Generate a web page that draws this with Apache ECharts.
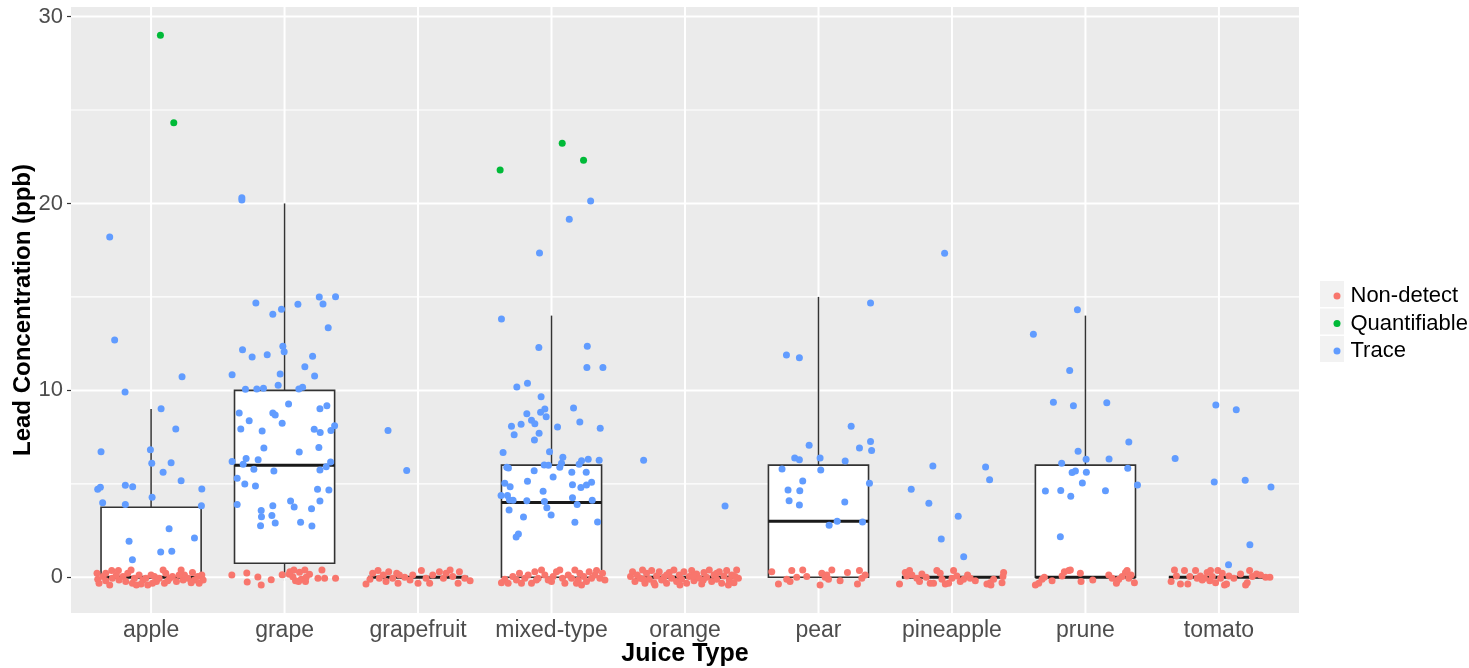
<!DOCTYPE html>
<html>
<head>
<meta charset="utf-8">
<script src="https://cdn.jsdelivr.net/npm/echarts@6/dist/echarts.min.js"></script>
<style>html,body{margin:0;padding:0;background:#fff}#chart{width:1469px;height:668px}</style>
</head>
<body>
<div id="chart"></div>
<script>
// ---------------- data ----------------
const categories = ['apple','grape','grapefruit','mixed-type','orange','pear','pineapple','prune','tomato'];
const yTicks = [0, 10, 20, 30];
const yMinorTicks = [5, 15, 25];
const xTicks = [1, 2, 3, 4, 5, 6, 7, 8, 9];
const boxLower  = [0, 0,    0, 0, 0, 0, 0, 0, 0];
const boxQ1     = [0, 0.75, 0, 0, 0, 0, 0, 0, 0];
const boxMedian = [0, 6,    0, 4, 0, 3, 0, 0, 0];
const boxQ3     = [3.75, 10, 0, 6, 0, 6, 0, 6, 0];
const boxUpper  = [9, 20,   0, 14, 0, 15, 0, 14, 0];
const seriesNames = ['Non-detect', 'Quantifiable', 'Trace'];

// points: [jittered category position, lead (ppb)]
const quantifiable = [
  [1.07, 29.0], [1.17, 24.32], [3.615, 21.79], [4.08, 23.22], [4.24, 22.31]
];
const trace = [
  // apple
  [0.69,18.2],[0.727,12.7],[1.232,10.73],[0.805,9.91],[1.075,9.02],[1.185,7.93],[0.625,6.72],[0.995,6.83],
  [1.005,6.10],[1.15,6.13],[1.09,5.62],[1.225,5.17],[0.60,4.71],[0.62,4.82],[0.807,4.92],[0.862,4.85],
  [1.38,4.72],[1.0075,4.28],[0.637,3.99],[0.807,3.90],[1.377,3.83],[1.135,2.60],[1.325,2.10],[0.835,1.93],
  [1.072,1.35],[1.155,1.39],[0.86,0.94],
  // grape
  [1.68,20.3],[1.68,20.18],[1.785,14.68],[1.912,14.07],[1.977,14.34],[2.10,14.61],[2.26,15.0],[2.288,14.62],
  [2.382,15.01],[2.327,13.35],[1.685,12.18],[1.757,11.79],[1.87,11.91],[1.987,12.36],[1.997,12.07],[2.21,11.82],
  [2.152,11.27],[2.225,10.77],[1.607,10.84],[1.967,10.88],[1.952,10.27],[1.707,10.06],[1.792,10.07],[1.842,10.11],
  [2.107,10.07],[2.135,10.17],[2.03,9.27],[2.317,9.18],[2.265,9.02],[1.66,8.79],[1.912,8.79],[1.93,8.68],
  [1.735,8.38],[1.982,8.24],[2.375,8.11],[2.347,7.86],[1.672,7.93],[1.832,7.83],[2.222,7.92],[2.267,7.74],
  [1.845,6.92],[2.257,6.94],[2.11,6.70],[1.607,6.19],[1.712,6.35],[1.69,6.05],[1.802,6.29],[2.345,6.17],
  [2.312,5.92],[1.77,5.78],[1.92,5.69],[2.265,5.74],[1.645,5.30],[1.702,4.99],[1.782,4.88],[2.247,4.71],
  [2.332,4.67],[2.045,4.08],[2.072,3.76],[2.265,4.08],[2.202,3.67],[1.645,3.90],[1.825,3.58],[1.912,3.83],
  [1.827,3.24],[1.905,3.30],[1.93,2.91],[1.82,2.76],[2.12,2.94],[2.205,2.74],
  // grapefruit
  [2.775,7.86],[2.915,5.71],
  // mixed-type
  [4.293,20.13],[4.133,19.15],[3.91,17.35],[3.625,13.82],[3.905,12.29],[4.268,12.36],[4.265,11.22],[4.385,11.22],
  [3.74,10.18],[3.82,10.38],[3.922,9.66],[4.165,9.06],[3.815,8.75],[3.95,9.00],[3.918,8.83],[3.96,8.59],
  [4.212,8.31],[3.85,8.40],[3.875,8.22],[3.772,8.19],[3.70,8.08],[4.045,8.04],[4.365,7.97],[3.72,7.63],
  [3.907,7.70],[3.872,7.35],[3.637,6.67],[3.985,6.72],[4.085,6.42],[4.225,6.24],[4.275,6.31],[4.357,6.26],
  [4.207,6.05],[4.075,6.10],[4.062,5.89],[3.945,6.01],[3.977,5.99],[3.665,5.89],[3.677,5.85],[3.87,5.70],
  [4.152,5.62],[4.26,5.62],[4.012,5.37],[3.82,5.14],[3.65,5.03],[3.69,4.85],[4.157,4.95],[4.22,4.80],
  [4.262,4.94],[4.30,5.08],[3.937,4.60],[3.622,4.37],[3.67,4.37],[3.685,4.14],[3.712,4.12],[3.815,4.10],
  [4.157,4.26],[4.305,4.12],[3.947,4.05],[3.965,3.72],[4.192,3.90],[3.682,3.60],[3.997,3.33],[3.79,3.23],
  [4.175,2.94],[4.345,2.96],[3.752,2.32],[3.735,2.16],
  // orange
  [4.69,6.26],[5.30,3.81],
  // pear
  [6.39,14.68],[5.76,11.89],[5.857,11.75],[6.245,8.08],[6.39,7.26],[6.307,6.92],[6.398,6.78],[5.93,7.06],
  [5.822,6.38],[5.857,6.29],[6.012,6.38],[6.20,6.22],[5.727,5.79],[6.017,5.74],[5.882,5.15],[6.382,5.03],
  [5.772,4.67],[5.86,4.63],[5.78,4.10],[5.857,3.87],[6.197,4.03],[6.14,3.00],[6.08,2.78],[6.33,2.96],
  // pineapple
  [6.945,17.33],[6.857,5.96],[7.252,5.90],[7.282,5.22],[6.695,4.71],[6.827,3.96],[7.047,3.26],[6.92,2.05],[7.088,1.10],
  // prune
  [7.61,13.0],[7.94,14.32],[7.882,11.07],[7.76,9.36],[7.91,9.18],[8.16,9.34],[8.325,7.24],[7.945,6.74],
  [8.005,6.31],[8.177,6.33],[7.822,6.10],[8.317,5.83],[7.90,5.60],[7.925,5.69],[8.007,5.62],[7.977,5.05],
  [8.39,4.94],[7.70,4.62],[7.815,4.65],[7.89,4.33],[8.15,4.63],[7.812,2.17],
  // tomato
  [8.977,9.22],[9.13,8.97],[8.672,6.35],[8.965,5.10],[9.197,5.19],[9.39,4.83],[9.232,1.74],[9.072,0.67]
];
const nonDetect = [
  // apple
  [0.595,0.21],[0.60,-0.11],[0.61,-0.32],[0.64,0.04],[0.66,-0.18],[0.69,-0.41],[0.705,0.36],[0.71,-0.05],
  [0.755,0.36],[0.76,-0.14],[0.79,0.04],[0.81,-0.23],[0.825,0.21],[0.85,0.39],[0.86,-0.32],[0.875,-0.05],
  [0.89,-0.41],[0.91,0.12],[0.94,-0.14],[0.96,-0.05],[0.975,-0.41],[1.0,0.12],[1.025,0.04],[1.04,-0.23],
  [1.06,-0.05],[1.09,0.39],[1.10,-0.32],[1.11,0.21],[1.14,-0.05],[1.16,0.04],[1.19,-0.23],[1.225,0.39],
  [1.24,-0.14],[1.25,0.12],[1.275,-0.05],[1.31,0.25],[1.325,-0.14],[1.35,0.04],[1.36,-0.32],[1.38,0.12],
  [1.39,-0.14],[0.66,0.21],[0.74,0.12],[0.925,-0.36],[1.01,-0.32],[1.125,-0.18],[1.21,0.12],[1.30,-0.29],
  // grape
  [1.605,0.12],[1.717,0.23],[1.72,-0.25],[1.80,0.02],[1.825,-0.41],[1.90,-0.13],[1.982,0.14],[2.04,0.30],
  [2.062,0.03],[2.082,-0.18],[2.112,0.27],[2.125,-0.11],[2.152,0.39],[2.162,0.0],[2.187,0.16],[2.25,-0.05],
  [2.28,0.39],[2.30,-0.05],[2.382,-0.05],[2.07,0.39],[2.105,-0.23],[2.035,0.16],[2.157,-0.23],
  // grapefruit
  [2.61,-0.36],[2.64,-0.11],[2.66,0.21],[2.70,0.36],[2.71,-0.05],[2.74,0.12],[2.76,-0.23],[2.78,0.30],
  [2.81,-0.05],[2.84,0.21],[2.85,-0.32],[2.86,0.12],[2.90,0.0],[2.94,-0.14],[2.96,0.12],[3.0,-0.32],
  [3.025,0.36],[3.06,-0.05],[3.087,-0.32],[3.11,0.12],[3.16,0.30],[3.19,-0.05],[3.21,0.21],[3.24,0.39],
  [3.26,0.04],[3.30,-0.32],[3.31,0.30],[3.35,-0.05],[3.39,-0.18],
  // mixed-type
  [3.625,-0.29],[3.65,-0.11],[3.675,-0.32],[3.71,0.04],[3.76,0.21],[3.775,-0.32],[3.80,-0.05],[3.825,0.12],
  [3.85,-0.32],[3.875,0.30],[3.90,-0.05],[3.925,0.39],[3.95,0.12],[3.975,-0.14],[4.0,-0.23],[4.012,0.04],
  [4.037,0.30],[4.062,0.39],[4.082,-0.05],[4.10,-0.32],[4.125,0.12],[4.15,-0.05],[4.175,0.39],[4.20,-0.14],
  [4.212,0.21],[4.225,-0.41],[4.242,0.04],[4.262,-0.23],[4.282,0.30],[4.30,-0.05],[4.325,0.12],[4.337,0.36],
  [4.362,-0.05],[4.382,0.21],[4.40,-0.14],[4.187,-0.32],[3.887,-0.14],[3.737,-0.14],
  // orange
  [4.592,0.04],[4.607,0.30],[4.625,-0.23],[4.642,0.12],[4.662,-0.05],[4.682,0.39],[4.70,-0.32],[4.712,0.21],
  [4.732,-0.11],[4.75,0.36],[4.767,-0.29],[4.787,0.07],[4.807,0.30],[4.825,-0.14],[4.842,0.0],[4.862,-0.32],
  [4.882,0.25],[4.90,-0.05],[4.917,0.39],[4.937,-0.23],[4.957,0.12],[4.975,-0.11],[4.992,0.30],[5.012,-0.32],
  [5.032,0.04],[5.05,0.36],[5.067,-0.18],[5.087,0.18],[5.107,-0.05],[5.125,-0.36],[5.142,0.25],[5.162,0.0],
  [5.182,0.39],[5.20,-0.23],[5.217,0.12],[5.237,-0.11],[5.257,0.30],[5.275,-0.32],[5.292,0.07],[5.312,0.36],
  [5.332,-0.14],[5.35,0.12],[5.367,-0.29],[5.387,0.39],[5.40,-0.05],[4.687,-0.11],[4.862,0.12],[5.062,0.07],
  [5.237,0.21],[5.325,-0.41],[4.775,-0.41],[4.962,-0.41],[5.137,-0.14],[5.375,0.04],
  // pear
  [5.65,0.30],[5.70,-0.36],[5.762,-0.11],[5.787,-0.23],[5.80,0.36],[5.837,0.0],[5.882,0.39],[5.912,0.04],
  [6.012,-0.41],[6.025,0.21],[6.05,0.0],[6.062,0.12],[6.075,-0.11],[6.10,0.39],[6.162,-0.18],[6.217,0.25],
  [6.292,-0.36],[6.307,0.36],[6.325,-0.05],[6.35,0.12],
  // pineapple
  [6.607,-0.36],[6.65,0.25],[6.662,0.07],[6.682,0.36],[6.70,0.12],[6.737,-0.05],[6.757,-0.23],[6.775,0.18],
  [6.807,0.0],[6.837,-0.32],[6.862,-0.32],[6.887,0.36],[6.912,0.21],[6.925,-0.11],[6.95,-0.36],[6.975,-0.32],
  [7.0,-0.05],[7.012,0.36],[7.037,0.07],[7.062,-0.23],[7.087,-0.11],[7.117,0.12],[7.137,-0.05],[7.175,-0.18],
  [7.262,-0.36],[7.287,-0.29],[7.312,-0.11],[7.375,-0.29],[7.382,0.04],[7.387,0.25],[7.292,-0.41],
  // prune
  [7.625,-0.41],[7.65,-0.32],[7.675,-0.11],[7.692,0.0],[7.75,-0.18],[7.825,0.07],[7.842,0.30],[7.875,0.36],
  [7.887,0.39],[7.962,0.21],[7.967,-0.23],[8.055,-0.14],[8.175,0.12],[8.20,-0.05],[8.232,-0.32],[8.25,-0.11],
  [8.275,0.04],[8.30,0.25],[8.312,0.36],[8.325,-0.05],[8.342,0.12],[8.367,-0.29],[8.237,-0.18],
  // tomato
  [8.642,-0.23],[8.667,0.39],[8.682,0.07],[8.712,-0.36],[8.742,0.36],[8.767,-0.36],[8.782,0.04],[8.825,0.36],
  [8.837,-0.05],[8.862,0.07],[8.892,-0.05],[8.912,0.25],[8.932,-0.18],[8.95,0.04],[8.975,-0.29],[8.992,0.36],
  [9.012,-0.05],[9.025,0.21],[9.042,-0.41],[9.057,-0.36],[9.075,0.07],[9.112,-0.05],[9.162,0.18],[9.20,-0.41],
  [9.212,-0.29],[9.23,0.36],[9.25,0.04],[9.282,0.18],[9.312,0.12],[9.35,0.0],[9.382,0.0],[8.875,-0.14],[8.937,0.36]
];

// ---------------- chart ----------------
const X_MIN = 0.4, X_MAX = 9.6, Y_MIN = -1.91, Y_MAX = 30.51;
const FONT = "'Liberation Sans', Arial, sans-serif";
const colors = { 'Non-detect': '#F8766D', 'Quantifiable': '#00BA38', 'Trace': '#619CFF' };
const BOX_W = 0.75;

const chart = echarts.init(document.getElementById('chart'), null, { renderer: 'canvas' });

function renderGrid(params, api) {
  const children = [];
  yMinorTicks.forEach(v => {
    const a = api.coord([X_MIN, v]), b = api.coord([X_MAX, v]);
    children.push({ type: 'line', shape: { x1: a[0], y1: a[1], x2: b[0], y2: b[1] }, style: { stroke: '#FFFFFF', lineWidth: 1.1 } });
  });
  yTicks.forEach(v => {
    const a = api.coord([X_MIN, v]), b = api.coord([X_MAX, v]);
    children.push({ type: 'line', shape: { x1: a[0], y1: a[1], x2: b[0], y2: b[1] }, style: { stroke: '#FFFFFF', lineWidth: 2 } });
  });
  xTicks.forEach(v => {
    const a = api.coord([v, Y_MIN]), b = api.coord([v, Y_MAX]);
    children.push({ type: 'line', shape: { x1: a[0], y1: a[1], x2: b[0], y2: b[1] }, style: { stroke: '#FFFFFF', lineWidth: 2 } });
  });
  return { type: 'group', children };
}

function renderBox(params, api) {
  const x = api.value(0), lo = api.value(1), q1 = api.value(2), md = api.value(3), q3 = api.value(4), hi = api.value(5);
  const h = BOX_W / 2;
  const pHi = api.coord([x, hi]), pQ3 = api.coord([x, q3]), pQ1 = api.coord([x, q1]), pLo = api.coord([x, lo]);
  const tl = api.coord([x - h, q3]), br = api.coord([x + h, q1]);
  const ml = api.coord([x - h, md]), mr = api.coord([x + h, md]);
  const children = [];
  if (hi > q3) children.push({ type: 'line', shape: { x1: pHi[0], y1: pHi[1], x2: pQ3[0], y2: pQ3[1] }, style: { stroke: '#333333', lineWidth: 1.5 } });
  if (q1 > lo) children.push({ type: 'line', shape: { x1: pQ1[0], y1: pQ1[1], x2: pLo[0], y2: pLo[1] }, style: { stroke: '#333333', lineWidth: 1.5 } });
  children.push({ type: 'rect', shape: { x: tl[0], y: tl[1], width: br[0] - tl[0], height: br[1] - tl[1] }, style: { fill: '#FFFFFF', stroke: '#333333', lineWidth: 1.6 } });
  children.push({ type: 'line', shape: { x1: ml[0], y1: ml[1], x2: mr[0], y2: mr[1] }, style: { stroke: '#1A1A1A', lineWidth: 3 } });
  return { type: 'group', children };
}

const boxData = categories.map((c, i) => [i + 1, boxLower[i], boxQ1[i], boxMedian[i], boxQ3[i], boxUpper[i]]);
const pointSets = { 'Non-detect': nonDetect, 'Quantifiable': quantifiable, 'Trace': trace };

const option = {
  animation: false,
  backgroundColor: '#FFFFFF',
  textStyle: { fontFamily: FONT },
  grid: { left: 71, right: 170, top: 7, bottom: 55, show: true, backgroundColor: '#EBEBEB', borderWidth: 0,
          containLabel: false, outerBoundsMode: 'none' },
  xAxis: {
    type: 'value', min: X_MIN, max: X_MAX,
    name: 'Juice Type', nameLocation: 'middle', nameGap: 29, nameMoveOverlap: false,
    nameTextStyle: { fontSize: 25, fontWeight: 'bold', color: '#000000', fontFamily: FONT },
    axisLine: { show: false },
    axisTick: { show: true, length: 4, lineStyle: { color: '#333333', width: 1.2 }, customValues: xTicks },
    axisLabel: { customValues: xTicks, fontSize: 23, color: '#4D4D4D', margin: 6, fontFamily: FONT,
      formatter: v => categories[Math.round(v) - 1] || '' },
    splitLine: { show: false }
  },
  yAxis: {
    type: 'value', min: Y_MIN, max: Y_MAX,
    name: 'Lead Concentration (ppb)', nameLocation: 'middle', nameGap: 36, nameRotate: 90, nameMoveOverlap: false,
    nameTextStyle: { fontSize: 24, fontWeight: 'bold', color: '#000000', fontFamily: FONT },
    axisLine: { show: false },
    axisTick: { show: true, length: 4, lineStyle: { color: '#333333', width: 1.2 }, customValues: yTicks },
    axisLabel: { customValues: yTicks, fontSize: 22, color: '#4D4D4D', margin: 8, fontFamily: FONT },
    splitLine: { show: false }
  },
  legend: {
    orient: 'vertical', left: 1328.5, top: 278,
    data: seriesNames,
    icon: 'circle', itemWidth: 7, itemHeight: 7, itemGap: 1.5,
    textStyle: { fontSize: 22, color: '#000000', lineHeight: 26, fontFamily: FONT, padding: [0, 0, 0, 5] }
  },
  graphic: seriesNames.map((n, i) => ({
    type: 'rect', left: 1320, top: 281 + i * 27.5, z: -1, silent: true,
    shape: { width: 24, height: 26 }, style: { fill: '#F2F2F2' }
  })),
  series: [
    { type: 'custom', name: 'grid', silent: true, z: 1, renderItem: renderGrid, data: [[1, 0]], encode: { x: 0, y: 1 } },
    { type: 'custom', name: 'box', silent: true, z: 2, renderItem: renderBox, data: boxData, encode: { x: 0, y: [1, 2, 3, 4, 5] } }
  ].concat(seriesNames.map(n => ({
    type: 'scatter', name: n, z: 3, data: pointSets[n], symbolSize: 7,
    itemStyle: { color: colors[n], opacity: 1 }
  })))
};
chart.setOption(option);
</script>
</body>
</html>
